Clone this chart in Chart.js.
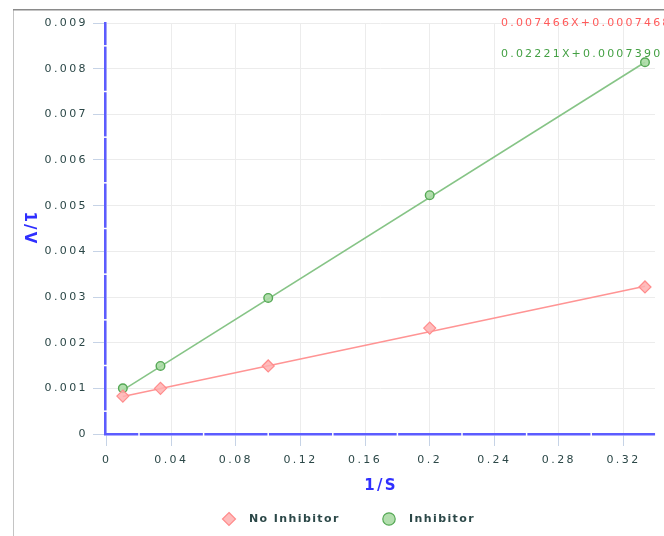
<!DOCTYPE html>
<html>
<head>
<meta charset="utf-8">
<script src="https://cdn.jsdelivr.net/npm/chart.js@4/dist/chart.umd.min.js"></script>
<style>
  html, body { margin: 0; padding: 0; background: #ffffff; }
  canvas { display: block; }
</style>
</head>
<body>
<canvas id="c" width="664" height="536"></canvas>
<script>
// Lineweaver-Burk data: 1/S against 1/V
const invS = [0.01, 0.0333, 0.1, 0.2, 0.3333];
const noInhibitor = [0.00083, 0.001, 0.00149, 0.00232, 0.00322];
const inhibitor = [0.001, 0.00149, 0.00298, 0.00523, 0.00814];
const seriesNames = ['No Inhibitor', 'Inhibitor'];

// Fitted lines (slope, intercept) and their printed equations
const fitSlopes = [0.007466, 0.02221];
const fitIntercepts = [0.0007468, 0.0007390];
const fitLabels = ['0.007466X+0.0007468', '0.02221X+0.0007390'];

// Axis ticks
const xTickValues = [0, 0.04, 0.08, 0.12, 0.16, 0.2, 0.24, 0.28, 0.32];
const xTickLabels = ['0', '0.04', '0.08', '0.12', '0.16', '0.2', '0.24', '0.28', '0.32'];
const yTickValues = [0, 0.001, 0.002, 0.003, 0.004, 0.005, 0.006, 0.007, 0.008, 0.009];
const yTickLabels = ['0', '0.001', '0.002', '0.003', '0.004', '0.005', '0.006', '0.007', '0.008', '0.009'];
const xTitle = '1/S';
const yTitle = '1/V';

const RED_LINE = '#ff9494';
const RED_FILL = 'rgba(255,176,176,0.85)';
const RED_EDGE = '#ff8c8c';
const GREEN_LINE = '#86c486';
const GREEN_FILL = 'rgba(170,218,164,0.9)';
const GREEN_EDGE = '#55a855';
const AXIS_BLUE = '#5c5cff';
const TITLE_BLUE = '#2f2fff';
const TEXT_DARK = '#2c4848';

const toPoints = ys => invS.map((x, i) => ({ x: x, y: ys[i] }));
const fitLine = k => {
  const x0 = invS[0], x1 = invS[invS.length - 1];
  return [
    { x: x0, y: fitSlopes[k] * x0 + fitIntercepts[k] },
    { x: x1, y: fitSlopes[k] * x1 + fitIntercepts[k] }
  ];
};

const TICK_SPACING = '2.4px';

// Decorations: frame, axis titles, equations, legend and the small breaks on the axis lines
const decor = {
  id: 'decor',
  beforeLayout(chart) { chart.ctx.letterSpacing = TICK_SPACING; },
  beforeDraw(chart) {
    const ctx = chart.ctx;
    ctx.letterSpacing = TICK_SPACING;
    ctx.save();
    ctx.strokeStyle = '#c4c4c4';
    ctx.lineWidth = 1;
    ctx.beginPath();
    ctx.moveTo(13.5, 10);
    ctx.lineTo(13.5, chart.height);
    ctx.stroke();
    ctx.strokeStyle = '#8a8a8a';
    ctx.lineWidth = 1.5;
    ctx.beginPath();
    ctx.moveTo(13, 9.75);
    ctx.lineTo(chart.width, 9.75);
    ctx.stroke();
    ctx.restore();
  },
  beforeDatasetsDraw(chart) {
    const ctx = chart.ctx;
    const xs = chart.scales.x, ys = chart.scales.y;
    const area = chart.chartArea;
    ctx.save();
    ctx.strokeStyle = '#ffffff';
    ctx.lineWidth = 1.5;
    for (let i = 0; i < xTickValues.length; i++) {
      const px = xs.getPixelForValue(xTickValues[i] + 0.02);
      if (px > area.right + 1) continue;
      ctx.beginPath();
      ctx.moveTo(px, area.bottom - 2);
      ctx.lineTo(px, area.bottom + 2);
      ctx.stroke();
    }
    for (let i = 0; i < yTickValues.length; i++) {
      const py = ys.getPixelForValue(yTickValues[i] + 0.0005);
      if (py < area.top - 1) continue;
      ctx.beginPath();
      ctx.moveTo(area.left - 2, py);
      ctx.lineTo(area.left + 2, py);
      ctx.stroke();
    }
    ctx.restore();
  },
  afterDraw(chart) {
    const ctx = chart.ctx;
    const area = chart.chartArea;
    ctx.save();

    // axis titles
    ctx.fillStyle = TITLE_BLUE;
    ctx.font = 'bold 15px "DejaVu Sans"';
    ctx.letterSpacing = '2.2px';
    ctx.textAlign = 'center';
    ctx.textBaseline = 'middle';
    ctx.fillText(xTitle, (area.left + area.right) / 2 + 1, 486);
    ctx.save();
    ctx.translate(29, (area.top + area.bottom) / 2);
    ctx.rotate(Math.PI / 2);
    ctx.fillText(yTitle, 0, 0);
    ctx.restore();

    // fitted-line equations
    ctx.font = '11px "DejaVu Sans"';
    ctx.letterSpacing = '2.2px';
    ctx.textAlign = 'left';
    ctx.fillStyle = '#ff5a5a';
    ctx.fillText(fitLabels[0], 501, 23);
    ctx.fillStyle = '#44a044';
    ctx.fillText(fitLabels[1], 501, 54);

    // legend
    const ly = 519;
    ctx.lineWidth = 1.2;
    ctx.fillStyle = RED_FILL;
    ctx.strokeStyle = RED_EDGE;
    ctx.beginPath();
    ctx.moveTo(229, ly - 6.5);
    ctx.lineTo(235.5, ly);
    ctx.lineTo(229, ly + 6.5);
    ctx.lineTo(222.5, ly);
    ctx.closePath();
    ctx.fill();
    ctx.stroke();
    ctx.fillStyle = GREEN_FILL;
    ctx.strokeStyle = GREEN_EDGE;
    ctx.beginPath();
    ctx.arc(389, ly, 6.2, 0, Math.PI * 2);
    ctx.fill();
    ctx.stroke();
    ctx.fillStyle = TEXT_DARK;
    ctx.font = 'bold 11px "DejaVu Sans"';
    ctx.letterSpacing = '1.4px';
    ctx.fillText(seriesNames[0], 249, ly);
    ctx.fillText(seriesNames[1], 409, ly);

    ctx.restore();
    ctx.letterSpacing = TICK_SPACING;
  }
};

new Chart(document.getElementById('c'), {
  type: 'scatter',
  data: {
    datasets: [
      {
        label: seriesNames[0],
        data: toPoints(noInhibitor),
        pointStyle: 'rectRot',
        pointRadius: 6,
        pointHoverRadius: 6,
        backgroundColor: RED_FILL,
        borderColor: RED_EDGE,
        borderWidth: 1.2
      },
      {
        label: seriesNames[1],
        data: toPoints(inhibitor),
        pointStyle: 'circle',
        pointRadius: 4.3,
        pointHoverRadius: 4.3,
        backgroundColor: GREEN_FILL,
        borderColor: GREEN_EDGE,
        borderWidth: 1.4
      },
      {
        label: seriesNames[0] + ' fit',
        data: fitLine(0),
        showLine: true,
        pointRadius: 0,
        borderColor: RED_LINE,
        borderWidth: 1.6,
        fill: false
      },
      {
        label: seriesNames[1] + ' fit',
        data: fitLine(1),
        showLine: true,
        pointRadius: 0,
        borderColor: GREEN_LINE,
        borderWidth: 1.6,
        fill: false
      }
    ]
  },
  options: {
    responsive: false,
    animation: false,
    devicePixelRatio: 1,
    layout: { padding: { left: 0, top: 23, right: 9, bottom: 0 } },
    plugins: {
      legend: { display: false },
      tooltip: { enabled: false }
    },
    scales: {
      x: {
        type: 'linear',
        min: -0.00105,
        max: 0.3395,
        afterFit(scale) { scale.height = 102; },
        afterBuildTicks(scale) { scale.ticks = xTickValues.map(v => ({ value: v })); },
        grid: {
          color: '#ececec',
          lineWidth: 1,
          tickColor: '#c6d3e6',
          tickLength: 12,
          drawTicks: true
        },
        border: { display: true, color: AXIS_BLUE, width: 2.5 },
        ticks: {
          padding: 8,
          color: TEXT_DARK,
          font: { family: '"DejaVu Sans"', size: 11 },
          maxRotation: 0,
          autoSkip: false,
          callback: (v, i) => xTickLabels[i]
        }
      },
      y: {
        type: 'linear',
        min: 0,
        max: 0.009,
        afterFit(scale) { scale.width = 105; },
        afterBuildTicks(scale) { scale.ticks = yTickValues.map(v => ({ value: v })); },
        grid: {
          color: '#ececec',
          lineWidth: 1,
          tickColor: '#c6d3e6',
          tickLength: 12,
          drawTicks: true
        },
        border: { display: true, color: AXIS_BLUE, width: 2.5 },
        ticks: {
          padding: 5,
          color: TEXT_DARK,
          font: { family: '"DejaVu Sans"', size: 11 },
          autoSkip: false,
          callback: (v, i) => yTickLabels[i]
        }
      }
    }
  },
  plugins: [decor]
});
</script>
</body>
</html>
